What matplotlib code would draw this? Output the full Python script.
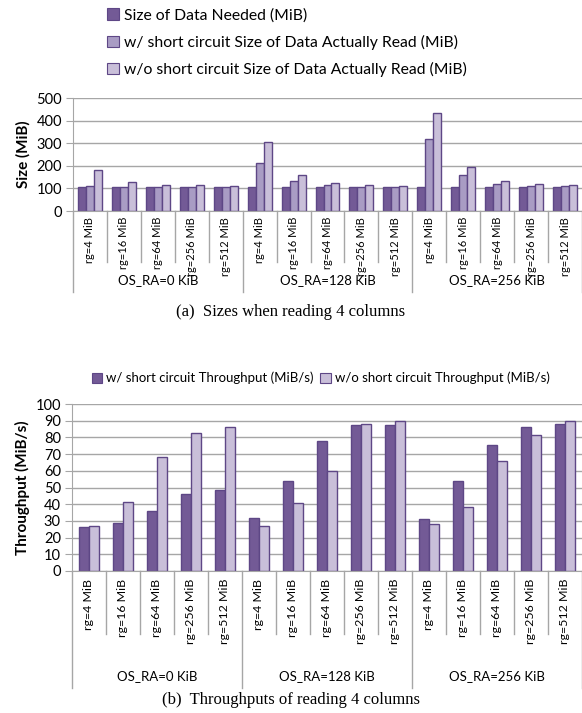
import matplotlib
matplotlib.use("Agg")
import matplotlib.pyplot as plt
from matplotlib.patches import Patch
from matplotlib.transforms import blended_transform_factory

plt.rcParams["font.family"] = ["Lato", "DejaVu Sans"]

os_ra = ["OS_RA=0 KiB", "OS_RA=128 KiB", "OS_RA=256 KiB"]
rg = ["rg=4 MiB", "rg=16 MiB", "rg=64 MiB", "rg=256 MiB", "rg=512 MiB"]

# (a) sizes, MiB, in order OS_RA x rg
size_needed = [107, 107, 107, 107, 107,
               107, 107, 107, 107, 107,
               107, 107, 107, 107, 107]
size_read_sc = [110, 108, 107, 107, 108,
                213, 134, 113, 108, 108,
                319, 160, 119, 110, 109]
size_read_nosc = [183, 127, 116, 113, 109,
                  306, 158, 124, 116, 112,
                  432, 196, 133, 118, 113]

# (b) throughput, MiB/s
tput_sc = [26.6, 28.6, 35.8, 46.2, 48.8,
           31.6, 53.8, 77.6, 87.2, 87.2,
           31.2, 53.6, 75.2, 86.0, 88.0]
tput_nosc = [27.0, 41.4, 68.2, 82.4, 86.0,
             26.8, 40.6, 59.6, 88.2, 90.0,
             28.4, 38.6, 65.6, 81.4, 90.0]

DARK = "#735a96"
MID = "#a99cc4"
LIGHT = "#c9bfd9"
EDGE = "#5e4786"
GRID = "#a6a6a6"

W, H = 582, 713
fig = plt.figure(figsize=(W / 100, H / 100), dpi=100)


def px_axes(left, top, right, bottom):
    return fig.add_axes([left / W, 1 - bottom / H, (right - left) / W, (bottom - top) / H])


def style_axes(ax, ymax, step, ylabel):
    ax.set_xlim(-0.5, len(os_ra) * len(rg) - 0.5)
    ax.set_ylim(0, ymax)
    ax.set_yticks(range(0, ymax + 1, step))
    ax.yaxis.grid(True, color=GRID, linewidth=1.0)
    ax.set_axisbelow(True)
    for s in ("top", "right"):
        ax.spines[s].set_visible(False)
    for s in ("left", "bottom"):
        ax.spines[s].set_color(GRID)
    ax.set_xticks([])
    ax.tick_params(axis="y", length=5, color=GRID, labelsize=10.5, pad=3)
    ax.set_ylabel(ylabel, fontsize=11, fontweight="bold", labelpad=4)


def category_axis(ax, inner_px, group_px, label_px, group_label_px, fs):
    # two-level category labels below the plot, with separator lines
    h = ax.bbox.height
    tr = blended_transform_factory(ax.transData, ax.transAxes)
    n = len(os_ra) * len(rg)
    for i in range(n + 1):
        x = i - 0.5
        depth = group_px if i % len(rg) == 0 else inner_px
        ax.plot([x, x], [0, -depth / h], transform=tr, color=GRID,
                linewidth=1.0, clip_on=False)
    for i in range(n):
        ax.text(i, -label_px / h, rg[i % len(rg)], transform=tr, rotation=90,
                ha="center", va="top", fontsize=fs)
    for g, name in enumerate(os_ra):
        xc = g * len(rg) + (len(rg) - 1) / 2
        ax.text(xc, -group_label_px / h, name, transform=tr,
                ha="center", va="center", fontsize=9.5)


x = list(range(len(os_ra) * len(rg)))

# (a) sizes
ax1 = px_axes(73, 98, 582, 211)
bw = 0.235
ax1.bar([i - bw for i in x], size_needed, bw, color=DARK, edgecolor=EDGE, linewidth=1.0)
ax1.bar(x, size_read_sc, bw, color=MID, edgecolor=EDGE, linewidth=1.0)
ax1.bar([i + bw for i in x], size_read_nosc, bw, color=LIGHT, edgecolor=EDGE, linewidth=1.0)
style_axes(ax1, 500, 100, "Size (MiB)")
category_axis(ax1, 51, 81, 6, 69, 8.0)

handles1 = [Patch(facecolor=c, edgecolor=EDGE, linewidth=0.8) for c in (DARK, MID, LIGHT)]
fig.legend(handles1,
           ["Size of Data Needed (MiB)",
            "w/ short circuit Size of Data Actually Read (MiB)",
            "w/o short circuit Size of Data Actually Read (MiB)"],
           loc="upper left", bbox_to_anchor=(104 / W, 1 - 5 / H), frameon=False,
           fontsize=11.3, handlelength=0.75, handleheight=0.75, handletextpad=0.3,
           labelspacing=0.78, borderaxespad=0, borderpad=0.2)

fig.text(0.5, 1 - 312 / H, "(a)  Sizes when reading 4 columns", ha="center", va="center",
         fontsize=12, family=["Liberation Serif", "DejaVu Serif"])

# (b) throughput
ax2 = px_axes(72, 404, 582, 571)
bw2 = 0.29
ax2.bar([i - bw2 / 2 for i in x], tput_sc, bw2, color=DARK, edgecolor=EDGE, linewidth=1.0)
ax2.bar([i + bw2 / 2 for i in x], tput_nosc, bw2, color=LIGHT, edgecolor=EDGE, linewidth=1.0)
style_axes(ax2, 100, 10, "Throughput (MiB/s)")
category_axis(ax2, 63, 117, 8, 105, 8.9)

handles2 = [Patch(facecolor=c, edgecolor=EDGE, linewidth=0.8) for c in (DARK, LIGHT)]
fig.legend(handles2,
           ["w/ short circuit Throughput (MiB/s)", "w/o short circuit Throughput (MiB/s)"],
           loc="center left", bbox_to_anchor=(80 / W, 1 - 378 / H), frameon=False, ncol=2,
           fontsize=9.5, handlelength=0.8, handleheight=0.8, handletextpad=0.3,
           columnspacing=0.5)

fig.text(0.5, 1 - 700 / H, "(b)  Throughputs of reading 4 columns", ha="center", va="center",
         fontsize=12, family=["Liberation Serif", "DejaVu Serif"])

fig.savefig("out.png", dpi=100)
